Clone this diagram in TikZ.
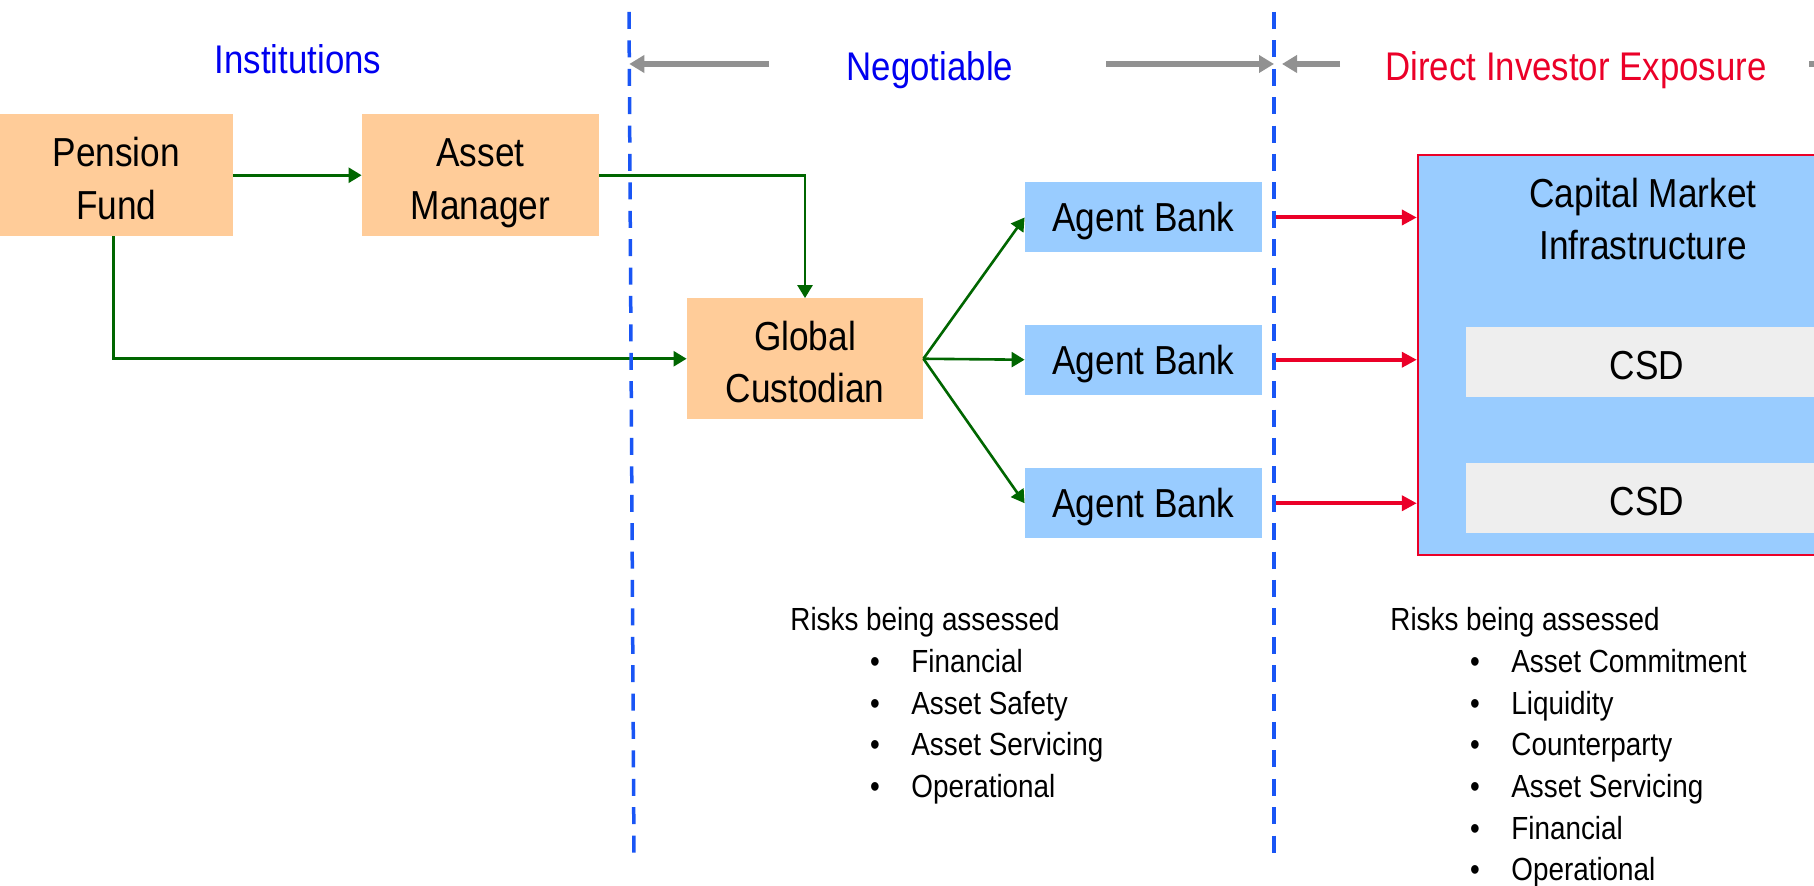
\documentclass[tikz,border=0pt]{standalone}
\usepackage{fontspec}
\setmainfont[FakeStretch=0.87]{Liberation Sans}
\usetikzlibrary{arrows.meta}

\definecolor{boxorange}{HTML}{FFCC99}
\definecolor{boxblue}{HTML}{99CCFF}
\definecolor{csdgray}{HTML}{EEEEEE}
\definecolor{flowgreen}{RGB}{0,102,0}
\definecolor{exposred}{RGB}{235,0,40}
\definecolor{zoneblue}{RGB}{25,85,245}
\definecolor{headblue}{RGB}{0,0,240}
\definecolor{spangray}{RGB}{145,145,145}

% taller first line: lowers the text inside a box a little
\newcommand{\lowstrut}{\rule{0pt}{17.8pt}}

\begin{document}
\begin{tikzpicture}[x=0.5pt,y=-0.5pt,
  boxtext/.style={font=\fontsize{20.25}{26.3}\selectfont, align=center, inner sep=0pt},
  orangebox/.style={boxtext, fill=boxorange, minimum height=60.75pt},
  bluebox/.style={boxtext, fill=boxblue, minimum width=118.5pt, minimum height=35pt},
  csdbox/.style={boxtext, fill=csdgray, minimum width=181pt, minimum height=35pt},
  headertext/.style={font=\fontsize{20}{24}\selectfont, anchor=base, inner sep=0pt},
  risktext/.style={font=\fontsize{16}{20}\selectfont, anchor=base west, inner sep=0pt},
  riskbullet/.style={font=\fontsize{16}{20}\selectfont, anchor=base, inner sep=0pt},
  flowarrow/.style={draw=flowgreen, line width=1.3pt, -{Triangle[length=6.5pt,width=7.5pt]}},
  exposurearrow/.style={draw=exposred, line width=2pt, -{Triangle[length=7.5pt,width=7.5pt]}},
  spanarrow/.style={draw=spangray, line width=3pt, -{Triangle[length=7.5pt,width=8.5pt]}},
  zoneline/.style={draw=zoneblue, line width=1.75pt, dash pattern=on 8.5pt off 5.7pt}
]
\useasboundingbox (0,0) rectangle (1814,886);
\fill[white] (0,0) rectangle (1814,886);
\clip (0,0) rectangle (1814,886);

% column headings
\node[headertext, text=headblue] (inst) at (298,74) {Institutions};
\node[headertext, text=headblue] (nego) at (930,81) {Negotiable};
\node[headertext, text=exposred] (dix) at (1576,81) {Direct Investor Exposure};

% investor side
\node[orangebox, minimum width=116.25pt] (pf) at (116.25,175.25) {\lowstrut Pension\\Fund};
\node[orangebox, minimum width=118.5pt] (am) at (480.5,175.25) {\lowstrut Asset\\Mana\smash{g}er};
\node[orangebox, minimum width=118pt, minimum height=60.25pt] (gc) at (805,358.75) {\lowstrut Global\\Custodian};

% agent banks
\node[bluebox] (ab1) at (1143.5,217.5) {A\smash{g}ent Bank};
\node[bluebox] (ab2) at (1143.5,359.75) {A\smash{g}ent Bank};
\node[bluebox] (ab3) at (1143.5,503.25) {A\smash{g}ent Bank};

% market infrastructure
\node[draw=exposred, line width=1.2pt, fill=boxblue, minimum width=228pt, minimum height=200pt, inner sep=0pt] (cmi) at (1646,355) {};
\node[boxtext] (cmititle) at (1643,219) {Capital Market\\Infrastructure};
\node[csdbox] (csd1) at (1647,362.1) {\lowstrut CSD};
\node[csdbox] (csd2) at (1647,498) {\lowstrut CSD};

% flows between institutions
\draw[flowarrow] (pf.east) -- (am.west);
\draw[flowarrow] (am.east) -| (gc.north);
\draw[flowarrow] ([xshift=-1.5pt]pf.south) |- (gc.west);
\draw[flowarrow] (gc.east) -- (ab1.west);
\draw[flowarrow] (gc.east) -- (ab2.west);
\draw[flowarrow] (gc.east) -- (ab3.west);

% zone boundaries
\coordinate (d1t) at (629,12);
\coordinate (d1b) at (634,858);
\coordinate (d2t) at (1274,12);
\coordinate (d2b) at (1274,858);

% exposure links
\draw[exposurearrow] (ab1.east -| d2t) -- (ab1.east -| cmi.west);
\draw[exposurearrow] (ab2.east -| d2t) -- (ab2.east -| cmi.west);
\draw[exposurearrow] (ab3.east -| d2t) -- (ab3.east -| cmi.west);

% span arrows
\coordinate (s1) at (769,64);
\coordinate (s1tip) at (629.3,64);
\coordinate (s2) at (1106,64);
\coordinate (s2tip) at (1274,64);
\coordinate (s3) at (1340,64);
\coordinate (s3tip) at (1282,64);
\coordinate (s4) at (1809,64);
\coordinate (s4end) at (1900,64);
\draw[spanarrow] (s1) -- (s1tip);
\draw[spanarrow] (s2) -- (s2tip);
\draw[spanarrow] (s3) -- (s3tip);
\draw[draw=spangray, line width=3pt] (s4) -- (s4end);

\draw[zoneline] (d1t) -- (d1b);
\draw[zoneline] (d2t) -- (d2b);

% risk lists
\node[risktext] (riskA) at (790,631) {Risks being assessed};
\foreach \t [count=\i] in {Financial, Asset Safety, Asset Servicing, Operational} {
  \node[riskbullet] (riskAb\i) at (875,{631+41.6*\i}) {•};
  \node[risktext] (riskAi\i) at (911,{631+41.6*\i}) {\t};
}
\node[risktext] (riskB) at (1390,631) {Risks being assessed};
\foreach \t [count=\i] in {Asset Commitment, Liquidity, Counterparty, Asset Servicing, Financial, Operational} {
  \node[riskbullet] (riskBb\i) at (1475,{631+41.6*\i}) {•};
  \node[risktext] (riskBi\i) at (1511,{631+41.6*\i}) {\t};
}
\end{tikzpicture}
\end{document}
